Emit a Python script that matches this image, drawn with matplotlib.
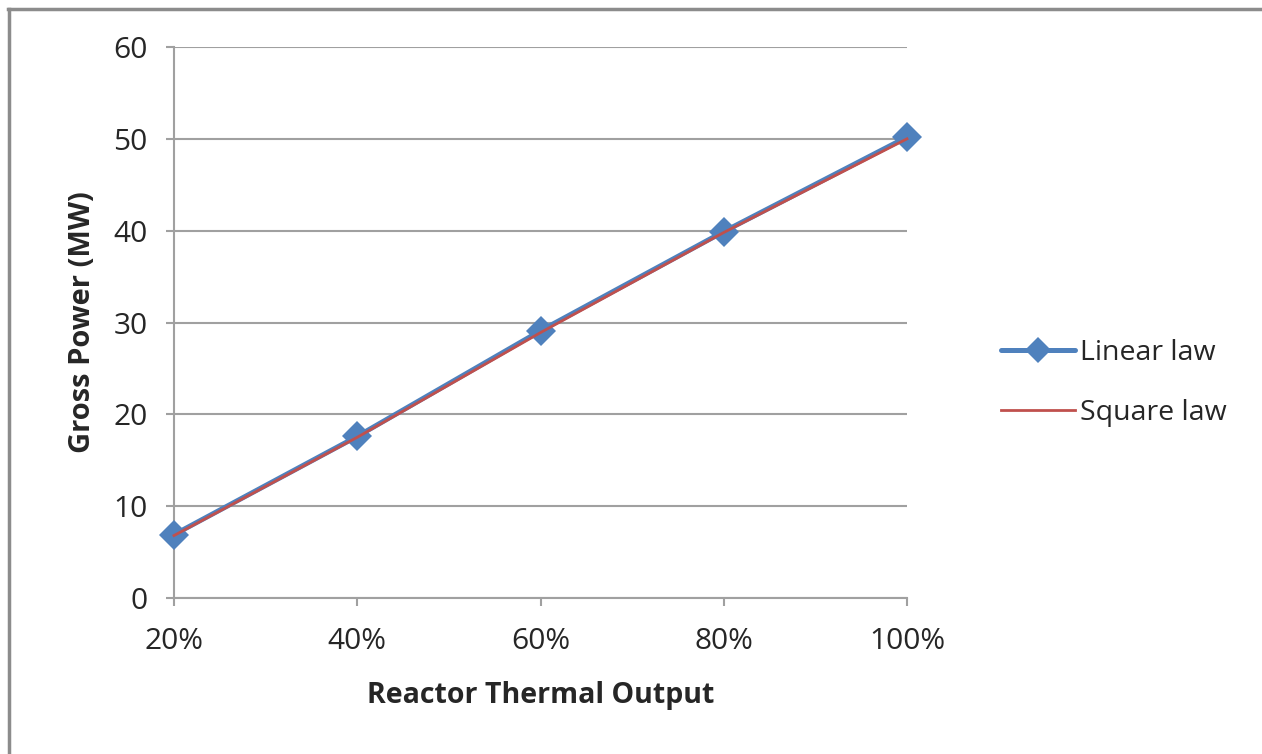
import matplotlib
matplotlib.use("Agg")
import matplotlib.pyplot as plt
from matplotlib.lines import Line2D

plt.rcParams['font.family'] = ['Open Sans', 'DejaVu Sans']

# reactor output levels and gross power (MW)
output_labels = ['20%', '40%', '60%', '80%', '100%']
linear_law = [6.9, 17.6, 29.1, 39.9, 50.2]
square_law = [6.8, 17.5, 28.9, 39.8, 50.0]

blue = '#4F81BD'
red = '#C0504D'
grid_gray = '#A0A0A0'
text_col = '#262626'

fig = plt.figure(figsize=(12.62, 7.54), dpi=100)
ax = fig.add_axes([174 / 1262, 1 - 598 / 754, (907 - 174) / 1262, (598 - 47) / 754])

x = list(range(len(output_labels)))
ax.plot(x, linear_law, color=blue, lw=3.6, marker='D', ms=15,
        markeredgewidth=0, solid_capstyle='round', zorder=3, clip_on=False)
ax.plot(x, square_law, color=red, lw=2.0, zorder=4, clip_on=False)

ax.set_xlim(0, len(output_labels) - 1)
ax.set_ylim(0, 60)
ax.set_yticks(range(0, 61, 10))
ax.set_xticks(x)
ax.set_xticklabels(output_labels)

ax.yaxis.grid(True, color=grid_gray, lw=1.5)
ax.set_axisbelow(True)
for side in ['top', 'right']:
    ax.spines[side].set_visible(False)
for side in ['left', 'bottom']:
    ax.spines[side].set_color(grid_gray)
    ax.spines[side].set_linewidth(1.5)
ax.tick_params(axis='both', direction='out', length=6, width=1.5,
               color=grid_gray, labelsize=21.5, labelcolor=text_col)
ax.tick_params(axis='y', pad=13)
ax.tick_params(axis='x', pad=15)

ax.set_xlabel('Reactor Thermal Output', fontsize=20.5, fontweight='bold',
              color=text_col, labelpad=18)
ax.set_ylabel('Gross Power (MW)', fontsize=21, fontweight='bold',
              color=text_col, labelpad=12)

handles = [
    Line2D([], [], color=blue, lw=3.6, marker='D', ms=13, markeredgewidth=0,
           solid_capstyle='round'),
    Line2D([], [], color=red, lw=2.0),
]
fig.legend(handles, ['Linear law', 'Square law'], loc='center left',
           bbox_to_anchor=(975 / 1262, 1 - 383 / 754), frameon=False,
           fontsize=20.5, labelcolor=text_col, handlelength=2.6,
           handletextpad=0.2, labelspacing=1.15)

# outer chart frame
frame_col = '#8C8C8C'
fig.add_artist(Line2D([8 / 1262, 1], [1 - 9 / 754, 1 - 9 / 754],
                      transform=fig.transFigure, color=frame_col, lw=2.5))
fig.add_artist(Line2D([9 / 1262, 9 / 1262], [0, 1 - 9 / 754],
                      transform=fig.transFigure, color=frame_col, lw=2.5))

fig.savefig('out.png', dpi=100)
